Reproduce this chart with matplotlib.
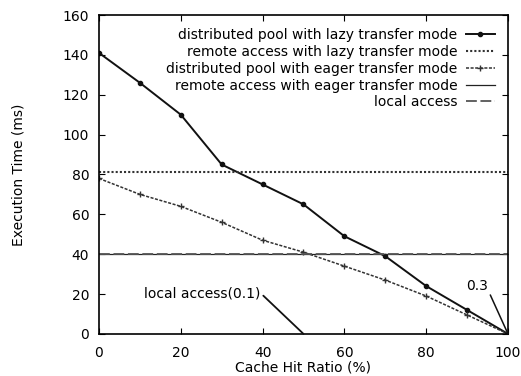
import matplotlib
matplotlib.use("Agg")
import matplotlib.pyplot as plt

hit_ratio = [0, 10, 20, 30, 40, 50, 60, 70, 80, 90, 100]
pool_lazy = [141, 126, 110, 85, 75, 65, 49, 39, 24, 12, 0]
pool_eager = [78, 70, 64, 56, 47, 41, 34, 27, 19, 9.5, 0]
remote_lazy = [81] * len(hit_ratio)
remote_eager = [40] * len(hit_ratio)
local_access = [40] * len(hit_ratio)

plt.rcParams['font.family'] = ['DejaVu Sans']
fig = plt.figure(figsize=(5.21, 3.76), dpi=100)
ax = fig.add_axes([0.19, 0.112, 0.785, 0.848])

ax.plot(hit_ratio, pool_lazy, color='#111111', lw=1.4, marker='o', ms=3,
        label='distributed pool with lazy transfer mode')
ax.plot(hit_ratio, remote_lazy, color='#333333', lw=1.5, ls=(0, (1, 1)),
        label='remote access with lazy transfer mode')
ax.plot(hit_ratio, pool_eager, color='#333333', lw=1.1, ls=(0, (2, 1)), marker='+', ms=4,
        label='distributed pool with eager transfer mode')
ax.plot(hit_ratio, remote_eager, color='#222222', lw=0.9,
        label='remote access with eager transfer mode')
ax.plot(hit_ratio, local_access, color='#555555', lw=1.3, ls=(0, (6, 2)),
        label='local access')

ax.annotate('local access(0.1)', xy=(50, 0), xytext=(39.5, 20.5),
            ha='right', va='center', fontsize=10,
            arrowprops=dict(arrowstyle='-', color='#111111', lw=1.3,
                            shrinkA=0, shrinkB=0, relpos=(1, 0.5)))
ax.annotate('0.3', xy=(100, 0), xytext=(95, 24),
            ha='right', va='center', fontsize=10,
            arrowprops=dict(arrowstyle='-', color='#111111', lw=1.1,
                            shrinkA=0, shrinkB=0, relpos=(1, 0.3)))

ax.set_xlim(0, 100)
ax.set_ylim(0, 160)
ax.set_xticks(range(0, 101, 20))
ax.set_yticks(range(0, 161, 20))
ax.tick_params(direction='in', top=True, right=True, labelsize=10, length=4)
ax.tick_params(axis='x', pad=9)
ax.tick_params(axis='y', pad=7)
for s in ax.spines.values():
    s.set_linewidth(1.2)
ax.set_xlabel('Cache Hit Ratio (%)', fontsize=10, labelpad=0)
ax.set_ylabel('Execution Time (ms)', fontsize=10, labelpad=27)

leg = ax.legend(loc='upper right', frameon=False, markerfirst=False, fontsize=10,
                handlelength=2.1, labelspacing=0.2, borderaxespad=0.55,
                handletextpad=0.6)
leg._legend_box.align = 'right'
for t in leg.get_texts():
    t.set_ha('right')

fig.savefig('out.png', dpi=100)
